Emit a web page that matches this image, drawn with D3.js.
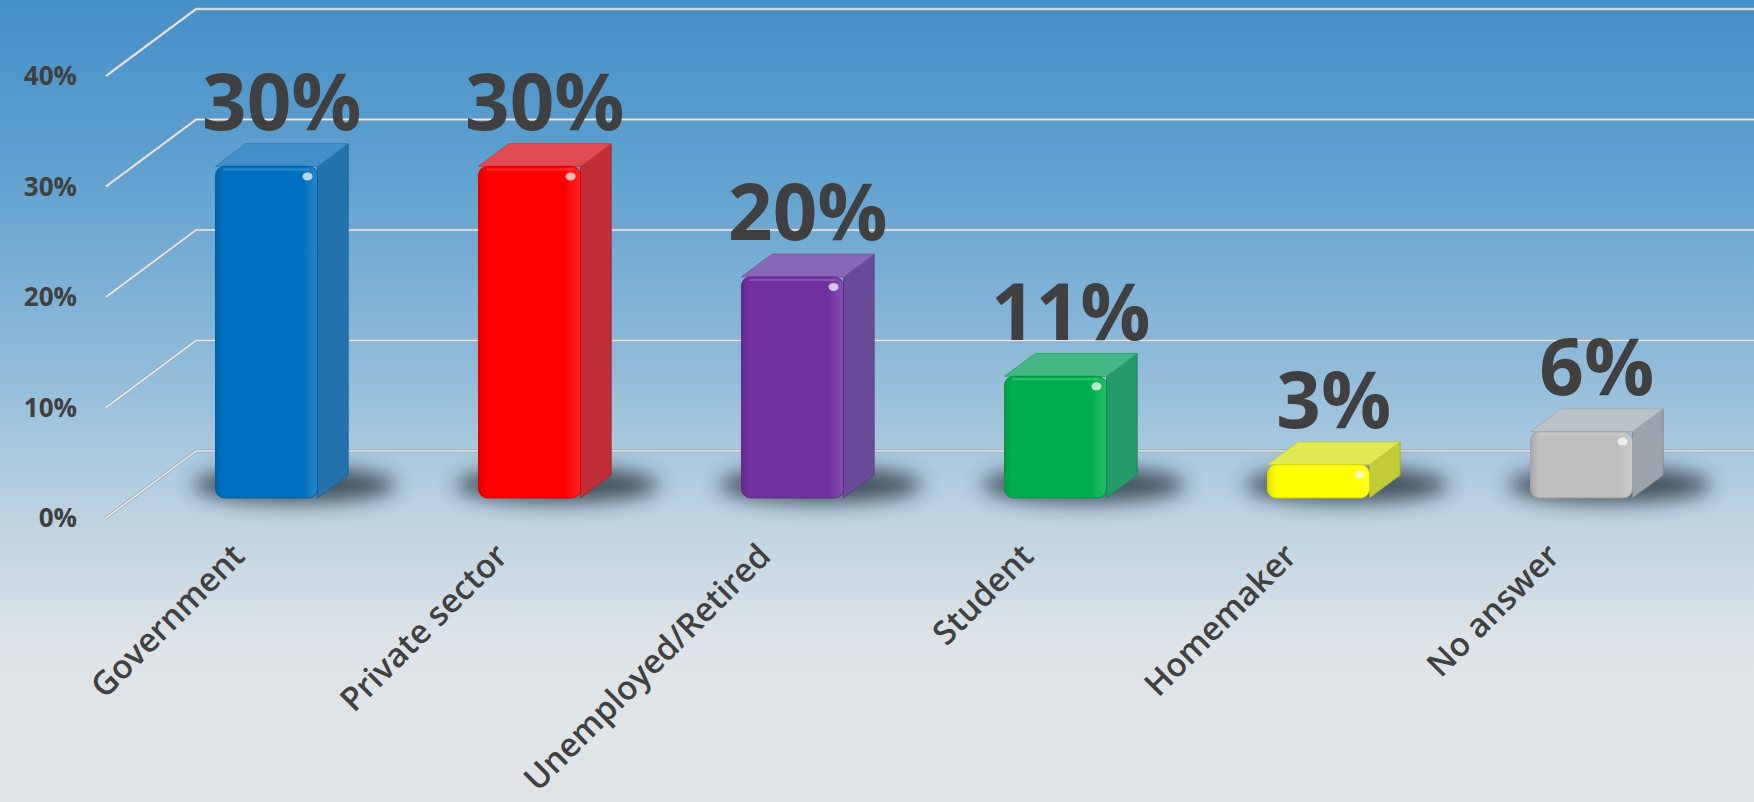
<!DOCTYPE html>
<html>
<head>
<meta charset="utf-8">
<script src="https://cdn.jsdelivr.net/npm/d3@7"></script>
<style>
  html, body { margin: 0; padding: 0; overflow: hidden; }
  svg { display: block; }
</style>
</head>
<body>
<svg id="chart" width="1754" height="802"></svg>
<script>
// ---- data ----
const categories = ["Government", "Private sector", "Unemployed/Retired", "Student", "Homemaker", "No answer"];
const values = [30, 30, 20, 11, 3, 6];
const valueLabels = ["30%", "30%", "20%", "11%", "3%", "6%"];
const barColors = ["#0070c0", "#ff0000", "#7030a0", "#00b050", "#ffff00", "#bfbfbf"];
const tickValues = [0, 10, 20, 30, 40];
const tickLabels = ["0%", "10%", "20%", "30%", "40%"];

// ---- layout ----
const W = 1754, H = 802;
const svg = d3.select("#chart");
const defs = svg.append("defs");

// background gradient
const bg = defs.append("linearGradient").attr("id", "bg").attr("x1", 0).attr("y1", 0).attr("x2", 0).attr("y2", 1);
[[0, "#4690c9"], [0.2, "#5da0d0"], [0.45, "#8fbad9"], [0.62, "#b7d0e1"], [0.8, "#dde3e8"], [1, "#e1e5e7"]]
  .forEach(([o, c]) => bg.append("stop").attr("offset", o).attr("stop-color", c));
svg.append("rect").attr("width", W).attr("height", H).attr("fill", "url(#bg)");

// shadow blur filter
defs.append("filter").attr("id", "blur").attr("x", "-50%").attr("y", "-100%").attr("width", "200%").attr("height", "300%")
  .append("feGaussianBlur").attr("stdDeviation", 10);

const step = 263;
const x0 = 108;
const x = d3.scaleBand().domain(categories).range([x0, x0 + step * categories.length])
  .paddingInner(0.612).paddingOuter(0.306);
const y = d3.scaleLinear().domain([0, 40]).range([518, 76]);

const DX = 90, DY = -67; // full depth offset
const proj = (px, v, d) => [px + d * DX, y(v) + d * DY];

// ---- gridlines (side wall + back wall) ----
const grid = svg.append("g");
const wallLeft = 106;
tickValues.forEach(t => {
  const f = [wallLeft, y(t)];
  const b = [wallLeft + DX, y(t) + DY];
  const path = `M${f[0]},${f[1]}L${b[0]},${b[1]}L${W},${b[1]}`;
  grid.append("path").attr("d", path).attr("fill", "none").attr("stroke", "#9aa6b0").attr("stroke-width", 3);
  grid.append("path").attr("d", path).attr("fill", "none").attr("stroke", "#e6e9ec").attr("stroke-width", 1.6);
});

// tick labels
svg.append("g").selectAll("text").data(tickValues).join("text")
  .attr("x", 77).attr("y", d => y(d)).attr("dy", "0.35em")
  .attr("text-anchor", "end")
  .attr("font-family", "'Open Sans', sans-serif").attr("font-weight", 700)
  .attr("font-size", 26).attr("fill", "#404040")
  .text((d, i) => tickLabels[i]);

// ---- bars ----
const d0 = 0.3, d1 = 0.64;
const bw = x.bandwidth();

// shadows
svg.append("g").selectAll("ellipse").data(categories).join("ellipse")
  .attr("cx", d => x(d) + bw / 2 + d0 * DX + 28)
  .attr("cy", y(0) + d0 * DY - 13)
  .attr("rx", bw * 1.0).attr("ry", 18)
  .attr("fill", "#26323e").attr("opacity", 0.8)
  .attr("filter", "url(#blur)");

const mix = (a, b, t) => d3.interpolateRgb(a, b)(t);

categories.forEach((c, i) => {
  const base = barColors[i];
  const v = values[i];
  const g = svg.append("g");
  const left = x(c), right = x(c) + bw;

  // gradients
  const gf = defs.append("linearGradient").attr("id", "front" + i).attr("x1", 0).attr("x2", 1).attr("y1", 0).attr("y2", 0);
  gf.append("stop").attr("offset", 0).attr("stop-color", mix(base, "#000", 0.12));
  gf.append("stop").attr("offset", 0.08).attr("stop-color", base);
  gf.append("stop").attr("offset", 0.85).attr("stop-color", base);
  gf.append("stop").attr("offset", 1).attr("stop-color", mix(base, "#ffffff", 0.15));

  const sideCol = mix(base, "#5f7890", 0.38);
  const topCol = mix(mix(base, "#ffffff", 0.22), "#6a90b8", 0.2);

  const fl = proj(left, 0, d0), fr = proj(right, 0, d0);
  const tl = proj(left, v, d0), tr = proj(right, v, d0);
  const btr = proj(right, v, d1), btl = proj(left, v, d1);
  const bbr = proj(right, 0, d1);

  // side face
  g.append("path")
    .attr("d", `M${tr[0]},${tr[1]}L${btr[0]},${btr[1]}L${bbr[0]},${bbr[1]}L${fr[0]},${fr[1]}Z`)
    .attr("fill", sideCol).attr("stroke", mix(sideCol, "#000", 0.15)).attr("stroke-width", 1).attr("stroke-linejoin", "round");
  // top face
  g.append("path")
    .attr("d", `M${tl[0]},${tl[1]}L${btl[0]},${btl[1]}L${btr[0]},${btr[1]}L${tr[0]},${tr[1]}Z`)
    .attr("fill", topCol).attr("stroke", mix(topCol, "#000", 0.12)).attr("stroke-width", 1).attr("stroke-linejoin", "round");
  // front face
  g.append("rect")
    .attr("x", tl[0]).attr("y", tl[1])
    .attr("width", fr[0] - tl[0]).attr("height", fl[1] - tl[1])
    .attr("rx", 9).attr("ry", 9)
    .attr("fill", `url(#front${i})`).attr("stroke", mix(base, "#000", 0.15)).attr("stroke-width", 1);
  // highlight
  g.append("ellipse").attr("cx", tr[0] - 10).attr("cy", tr[1] + 10).attr("rx", 5).attr("ry", 4)
    .attr("fill", "#ffffff").attr("opacity", 0.7);
  // top-edge soft bevel line
  g.append("line").attr("x1", tl[0] + 8).attr("x2", tr[0] - 8).attr("y1", tl[1] + 3).attr("y2", tr[1] + 3)
    .attr("stroke", mix(base, "#ffffff", 0.3)).attr("stroke-width", 2).attr("opacity", 0.6);

  // value label
  const lx = x(c) + bw / 2 + (d0 + d1) / 2 * DX;
  const ly = y(v) + d1 * DY - 14;
  svg.append("text").attr("x", lx).attr("y", ly)
    .attr("text-anchor", "middle")
    .attr("font-family", "'Open Sans', sans-serif").attr("font-weight", 700)
    .attr("font-size", 78).attr("fill", "#404040")
    .text(valueLabels[i]);

  // category label
  const cx = x(c) + bw / 2 + d0 * DX - 20;
  const cy = 558;
  svg.append("text")
    .attr("transform", `translate(${cx},${cy}) rotate(-45)`)
    .attr("text-anchor", "end")
    .attr("font-family", "'Open Sans', sans-serif").attr("font-weight", 600)
    .attr("font-size", 33).attr("fill", "#404040")
    .text(c);
});
</script>
</body>
</html>
